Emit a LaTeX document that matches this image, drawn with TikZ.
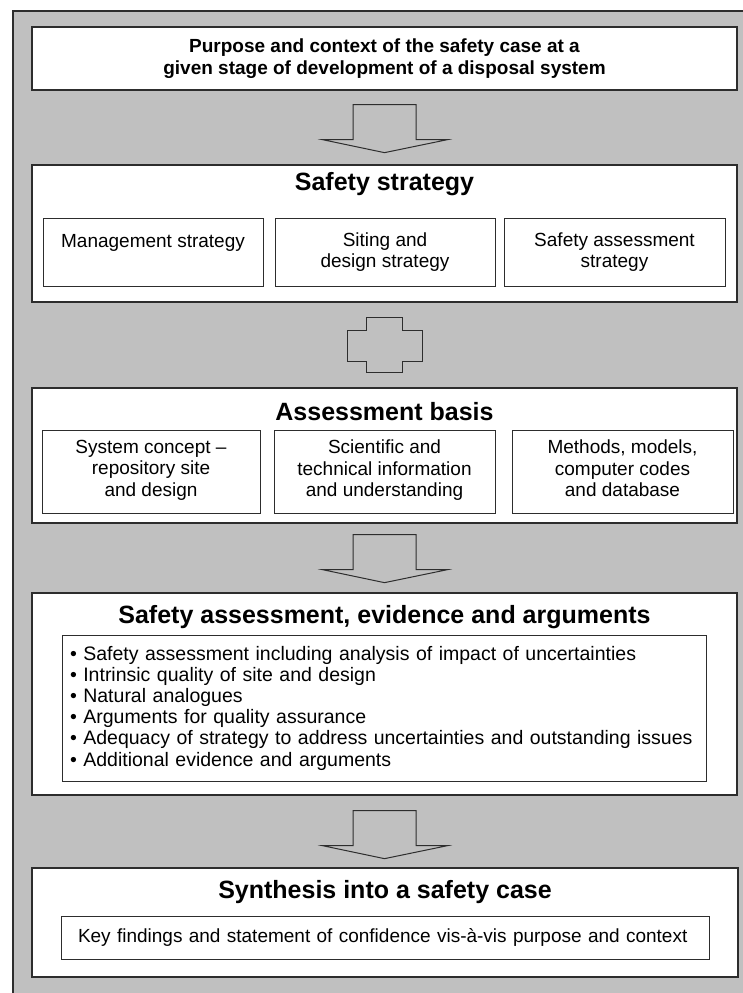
\documentclass[tikz,border=0pt]{standalone}
\usepackage{fontspec}
\setmainfont{Liberation Sans}
\usetikzlibrary{positioning}
\definecolor{panelgray}{RGB}{192,192,192}
\definecolor{edgegray}{RGB}{45,45,45}

\begin{document}
\begin{tikzpicture}[
    x=1pt, y=-1pt,
    panel/.style={rectangle, draw=edgegray, line width=1.3pt, fill=white, inner sep=0pt},
    subpanel/.style={rectangle, draw=edgegray, line width=1pt, fill=white, align=center, font=\fontsize{19}{21.5}\selectfont},
    heading/.style={font=\bfseries\fontsize{25}{28}\selectfont},
    blockline/.style={draw=edgegray, line width=1pt, line join=miter},
    blockarrow/.pic={\draw[blockline] (-31.5,0) -- (31.5,0) -- (31.5,35) -- (63,35) -- (0,48) -- (-62,35) -- (-31.5,35) -- cycle;},
    crossarrow/.pic={\draw[blockline] (-18,0) -- (18,0) -- (18,13) -- (38,13) -- (38,44) -- (18,44) -- (18,55) -- (-18,55) -- (-18,44) -- (-37,44) -- (-37,13) -- (-18,13) -- cycle;}
]
\useasboundingbox (0,0) rectangle (742,993);

% Gray frame
\fill[panelgray] (13,11) rectangle (760,1010);
\draw[edgegray, line width=1.5pt] (13,1010) -- (13,11) -- (760,11);

% Purpose and context
\node[panel, minimum width=705, minimum height=63, align=center, font=\bfseries\fontsize{19}{22}\selectfont] (purpose) at (384.5,58.5) {Purpose and context of the safety case at a\\given stage of development of a disposal system};

\pic at ([yshift=-14pt]purpose.south) {blockarrow};

% Safety strategy
\node[panel, minimum width=705, minimum height=137] (strategy) at (384.5,233.5) {};
\node[heading] (strategytitle) at (384.5,184) {Safety strategy};
\node[subpanel, minimum width=220, minimum height=68] (mgmt) at (153,252) {Management strategy\\\mbox{}};
\node[subpanel, minimum width=220, minimum height=68] (siting) at (385,252) {Siting and\\design strategy};
\node[subpanel, minimum width=221, minimum height=68] (sastrat) at (614.5,252) {Safety assessment\\strategy};

\pic at ([yshift=-15pt]strategy.south) {crossarrow};

% Assessment basis
\node[panel, minimum width=705, minimum height=135] (basis) at (384.5,455.5) {};
\node[heading] (basistitle) at (384.5,412) {Assessment basis};
\node[subpanel, minimum width=218, minimum height=83] (concept) at (151,471.5) {System concept –\\repository site\\and design\strut};
\node[subpanel, minimum width=221, minimum height=83] (sciinfo) at (384.5,471.5) {Scientific and\\technical information\\and understanding\strut};
\node[subpanel, minimum width=221, minimum height=83] (methods) at (622.5,471.5) {Methods, models,\\computer codes\\and database\strut};

\pic at ([yshift=-11pt]basis.south) {blockarrow};

% Safety assessment, evidence and arguments
\node[panel, minimum width=705, minimum height=202] (evidence) at (384.5,694) {};
\node[heading] (evidencetitle) at (384.5,617) {Safety assessment, evidence and arguments};
\node[subpanel, minimum width=644, minimum height=146, text width=628, inner xsep=8, align=left, font=\fontsize{19.5}{21.2}\selectfont] (evlist) at (384,708) {%
\textbullet\ Safety assessment including analysis of impact of uncertainties\\
\textbullet\ Intrinsic quality of site and design\\
\textbullet\ Natural analogues\\
\textbullet\ Arguments for quality assurance\\
\textbullet\ Adequacy of strategy to address uncertainties and outstanding issues\\
\textbullet\ Additional evidence and arguments};

\pic at ([yshift=-15pt]evidence.south) {blockarrow};

% Synthesis
\node[panel, minimum width=706, minimum height=109] (synthesis) at (385,922.5) {};
\node[heading] (synthtitle) at (385,892) {Synthesis into a safety case};
\node[subpanel, minimum width=648, minimum height=43, text width=614, inner xsep=17, align=left] (findings) at (385,937.5) {Key findings and statement of confidence vis-à-vis purpose and context};

\end{tikzpicture}
\end{document}
